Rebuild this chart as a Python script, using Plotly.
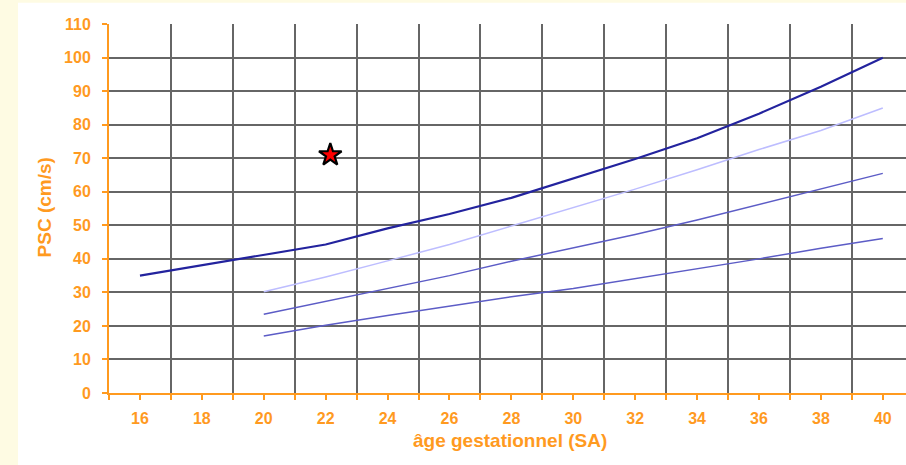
import plotly.graph_objects as go

# Gestational age (weeks of amenorrhea)
weeks = [16, 18, 20, 22, 24, 26, 28, 30, 32, 34, 36, 38, 40]
weeks_ref = [20, 22, 24, 26, 28, 30, 32, 34, 36, 38, 40]

# Peak systolic velocity of the middle cerebral artery (cm/s)
psc_upper = [35, 38.1, 41.1, 44.3, 49.1, 53.4, 58.2, 64.0, 69.8, 76.0, 83.3, 91.3, 100]
psc_light = [30.2, 34.6, 39.4, 44.3, 49.8, 55.3, 60.8, 66.6, 72.6, 78.3, 85]
psc_mid = [23.5, 27.3, 31.1, 35.0, 39.3, 43.2, 47.3, 51.6, 56.2, 60.8, 65.5]
psc_low = [17.0, 20.2, 23.1, 25.9, 28.7, 31.2, 34.1, 37.1, 40.0, 43.2, 46.1]

# Measured patient value
patient_week = [22.15]
patient_psc = [71]

x_ticks = list(range(16, 41, 2))
y_ticks = list(range(0, 111, 10))

ORANGE = "#FF9A1F"
GRID = "#666666"
FONT = "Liberation Sans, Arial, sans-serif"

fig = go.Figure()
fig.add_trace(go.Scatter(x=weeks, y=psc_upper, mode="lines",
                         line=dict(color="#23239E", width=2.2)))
fig.add_trace(go.Scatter(x=weeks_ref, y=psc_light, mode="lines",
                         line=dict(color="#BDBDFF", width=1.5)))
fig.add_trace(go.Scatter(x=weeks_ref, y=psc_mid, mode="lines",
                         line=dict(color="#5C5CC6", width=1.5)))
fig.add_trace(go.Scatter(x=weeks_ref, y=psc_low, mode="lines",
                         line=dict(color="#5C5CC6", width=1.5)))
fig.add_trace(go.Scatter(x=patient_week, y=patient_psc, mode="markers",
                         marker=dict(symbol="star", size=17, color="#FF0000",
                                     line=dict(color="#000000", width=2.2))))

fig.update_layout(
    width=906, height=465,
    margin=dict(l=109, r=0, t=24.3, b=72.2),
    paper_bgcolor="#FEFBE3",
    plot_bgcolor="#FFFFFF",
    showlegend=False,
    font=dict(family=FONT, color=ORANGE),
    shapes=[dict(type="rect", xref="paper", yref="paper",
                 x0=-0.1142, x1=1.02, y0=-0.25, y1=1.0578,
                 fillcolor="#FFFFFF", line=dict(width=0), layer="below")],
    annotations=[
        dict(text="<b>âge gestationnel (SA)</b>", xref="paper", yref="paper",
             x=0.503, y=-0.128, xanchor="center", yanchor="middle",
             showarrow=False, font=dict(size=19, color=ORANGE, family=FONT)),
        dict(text="<b>PSC (cm/s)</b>", xref="paper", yref="paper",
             x=-0.081, y=0.504, xanchor="center", yanchor="middle", textangle=-90,
             showarrow=False, font=dict(size=19, color=ORANGE, family=FONT)),
    ],
)

fig.update_xaxes(
    range=[15, 40.75],
    tickmode="array", tickvals=x_ticks, ticktext=[str(v) for v in x_ticks],
    showgrid=False, zeroline=False,
    showline=True, linecolor=ORANGE, linewidth=2,
    ticks="outside", ticklen=5, tickwidth=1.5, tickcolor=ORANGE,
    tickfont=dict(size=16, color=ORANGE, family=FONT, weight="bold"),
    ticklabelstandoff=5,
    minor=dict(tickmode="linear", tick0=15, dtick=2, showgrid=True,
               gridcolor=GRID, gridwidth=1.5,
               ticks="outside", ticklen=5, tickwidth=1.5, tickcolor=ORANGE),
)

fig.update_yaxes(
    range=[0, 110.05],
    tickmode="array", tickvals=y_ticks, ticktext=[str(v) for v in y_ticks],
    showgrid=True, gridcolor=GRID, gridwidth=1.5, zeroline=False,
    showline=True, linecolor=ORANGE, linewidth=2,
    ticks="outside", ticklen=5, tickwidth=1.5, tickcolor=ORANGE,
    tickfont=dict(size=16, color=ORANGE, family=FONT, weight="bold"),
    ticklabelstandoff=8,
)

fig.write_html("out.html")
